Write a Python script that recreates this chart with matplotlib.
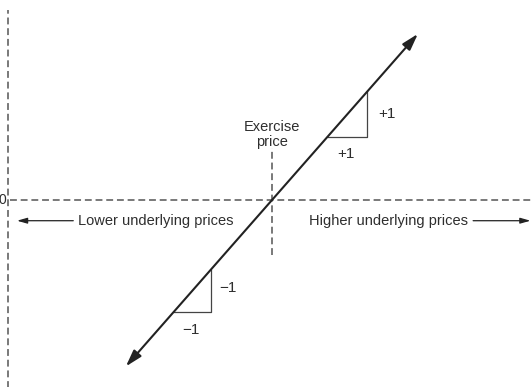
import matplotlib
matplotlib.use("Agg")
import matplotlib.pyplot as plt

plt.rcParams["font.family"] = ["Liberation Sans Narrow", "Liberation Sans", "DejaVu Sans"]

# long forward position: profit moves one-for-one with the underlying
strike = 0.0
price_ends = [-27.5, 27.5]
profit_ends = [p - strike for p in price_ends]

# slope triangles (run, rise)
up_tri_x = [10.5, 18.0, 18.0]
up_tri_y = [10.5, 10.5, 18.0]
down_tri_x = [-18.5, -11.5, -11.5]
down_tri_y = [-18.5, -18.5, -11.5]

ink = "#222222"
dash = "#555555"
txt = "#2e2e2e"

fig = plt.figure(figsize=(5.31, 3.87), dpi=100)
ax = fig.add_axes([0, 0, 1, 1])
ax.set_xlim(-51.2, 48.8)
ax.set_ylim(-30.9, 33.1)
ax.axis("off")

# axes drawn as dashed guides
ax.plot([-49.7, -49.7], [-31, 31.4], ls=(0, (4.5, 2.5)), color=dash, lw=1.1)
ax.plot([-49.4, 48.8], [0, 0], ls=(0, (4.5, 2.5)), color=dash, lw=1.1)
ax.plot([strike, strike], [-9.1, 8.6], ls=(0, (4.5, 2.5)), color=dash, lw=1.1)
ax.text(-50.0, 0, "0", ha="right", va="center", fontsize=10, color=txt)

# payoff line with arrowheads on both ends
ax.annotate("", xy=(price_ends[1], profit_ends[1]), xytext=(price_ends[0], profit_ends[0]),
            arrowprops=dict(arrowstyle="<|-|>,head_length=1.0,head_width=0.3",
                            color=ink, lw=1.5, shrinkA=0, shrinkB=0))

ax.plot(up_tri_x, up_tri_y, color="#444444", lw=0.9)
ax.plot(down_tri_x, down_tri_y, color="#444444", lw=0.9)

ax.text(20.0, 14.2, "+1", ha="left", va="center", fontsize=11, color=txt)
ax.text(14.0, 7.6, "+1", ha="center", va="center", fontsize=11, color=txt)
ax.text(-10.0, -14.6, "\u22121", ha="left", va="center", fontsize=11, color=txt)
ax.text(-15.2, -21.4, "\u22121", ha="center", va="center", fontsize=11, color=txt)

ax.text(strike, 10.8, "Exercise\nprice", ha="center", va="center", fontsize=10.5,
        color=txt, linespacing=1.1)

ax.text(-36.6, -3.4, "Lower underlying prices", ha="left", va="center", fontsize=10.5, color=txt)
ax.annotate("", xy=(-48.0, -3.4), xytext=(-37.4, -3.4),
            arrowprops=dict(arrowstyle="-|>,head_length=0.6,head_width=0.17",
                            color=ink, lw=0.9, shrinkA=0, shrinkB=0))
ax.text(36.9, -3.4, "Higher underlying prices", ha="right", va="center", fontsize=10.5, color=txt)
ax.annotate("", xy=(48.7, -3.4), xytext=(37.9, -3.4),
            arrowprops=dict(arrowstyle="-|>,head_length=0.6,head_width=0.17",
                            color=ink, lw=0.9, shrinkA=0, shrinkB=0))

fig.savefig("out.png", dpi=100)
